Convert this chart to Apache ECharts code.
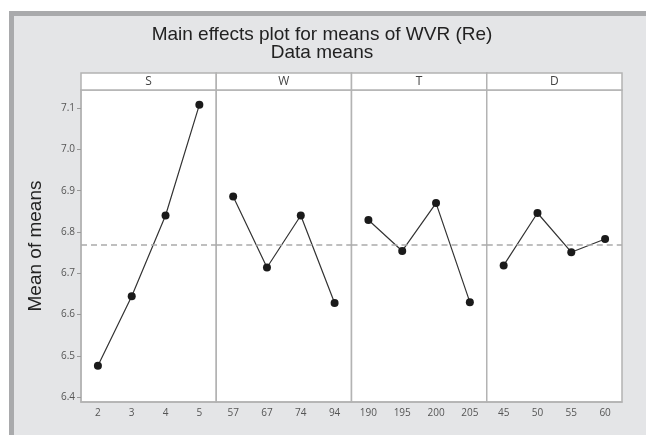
<!DOCTYPE html>
<html>
<head>
<meta charset="utf-8">
<script src="https://cdn.jsdelivr.net/npm/echarts@6/dist/echarts.min.js"></script>
<style>
  html, body { margin: 0; padding: 0; background: #ffffff; }
  #wrap { position: relative; width: 646px; height: 435px; overflow: hidden; }
  #bg { position: absolute; left: 9px; top: 11px; right: 0; bottom: 0;
        background: #e4e5e7; border-left: 5px solid #a9aaac; border-top: 5px solid #a9aaac; }
  #chart { position: absolute; left: 0; top: 0; width: 646px; height: 435px; }
</style>
</head>
<body>
<div id="wrap"><div id="bg"></div><div id="chart"></div></div>
<script>
// ---- data ----
const panelNames = ['S', 'W', 'T', 'D'];
const catS = ['2', '3', '4', '5'];
const catW = ['57', '67', '74', '94'];
const catT = ['190', '195', '200', '205'];
const catD = ['45', '50', '55', '60'];
const meanS = [6.476, 6.644, 6.840, 7.108];
const meanW = [6.886, 6.714, 6.840, 6.628];
const meanT = [6.829, 6.754, 6.870, 6.630];
const meanD = [6.719, 6.846, 6.751, 6.783];
const overallMean = 6.768;
const yTicks = [6.4, 6.5, 6.6, 6.7, 6.8, 6.9, 7.0, 7.1];

const cats = [catS, catW, catT, catD];
const means = [meanS, meanW, meanT, meanD];

// ---- layout ----
const plotLeft = 81, plotRight = 622, plotTop = 90, plotBottom = 402, headTop = 73;
const pw = (plotRight - plotLeft) / 4;
const yMin = 6.388, yMax = 7.144;
const borderCol = '#b3b3b3';

const grids = [], xAxes = [], yAxes = [], series = [], graphics = [];
for (let i = 0; i < 4; i++) {
  grids.push({ left: plotLeft + i * pw, top: plotTop, width: pw, height: plotBottom - plotTop,
    show: true, backgroundColor: '#ffffff', borderColor: borderCol, borderWidth: 1.5 });
  xAxes.push({ type: 'category', gridIndex: i, data: cats[i], boundaryGap: true,
    axisLine: { lineStyle: { color: borderCol, width: 1.5 } },
    axisTick: { alignWithLabel: true, length: 4, lineStyle: { color: '#999' } },
    axisLabel: { color: '#555', fontSize: 10, fontFamily: 'Open Sans', margin: 6 },
    splitLine: { show: false } });
  yAxes.push({ type: 'value', gridIndex: i, min: yMin, max: yMax,
    axisLine: { show: i === 0, lineStyle: { color: borderCol, width: 1.5 } },
    axisTick: { show: i === 0, length: 4, customValues: yTicks, lineStyle: { color: '#999' } },
    axisLabel: { show: i === 0, customValues: yTicks, color: '#555', fontSize: 10, fontFamily: 'Open Sans', margin: 6,
      formatter: v => v.toFixed(1) },
    splitLine: { show: false },
    name: i === 0 ? 'Mean of means' : '', nameLocation: 'middle', nameRotate: 90, nameGap: 36,
    nameTextStyle: { fontFamily: 'Liberation Sans', fontSize: 19, color: '#222' } });
  series.push({ type: 'line', xAxisIndex: i, yAxisIndex: i, data: means[i],
    symbol: 'circle', symbolSize: 8, itemStyle: { color: '#1a1a1a' },
    lineStyle: { color: '#333', width: 1.2 },
    markLine: { silent: true, symbol: 'none', label: { show: false },
      lineStyle: { color: '#aaaaaa', type: [6, 4], width: 1.5 },
      data: [{ yAxis: overallMean }] } });
  graphics.push({ type: 'rect', shape: { x: plotLeft + i * pw, y: headTop, width: pw, height: plotTop - headTop },
    style: { fill: '#ffffff', stroke: borderCol, lineWidth: 1.5 } });
  graphics.push({ type: 'text', x: plotLeft + i * pw + pw / 2, y: (headTop + plotTop) / 2,
    style: { text: panelNames[i], fill: '#444', fontSize: 12, fontFamily: 'Open Sans', align: 'center', verticalAlign: 'middle' } });
}

const chart = echarts.init(document.getElementById('chart'), null, { renderer: 'canvas' });
chart.setOption({
  animation: false,
  backgroundColor: 'transparent',
  title: { text: 'Main effects plot for means of WVR (Re)\nData means', left: 322, top: 26, padding: 0,
    textAlign: 'center',
    textStyle: { fontFamily: 'Liberation Sans', fontSize: 19, fontWeight: 'normal', color: '#222', lineHeight: 18, align: 'center' } },
  grid: grids, xAxis: xAxes, yAxis: yAxes, series: series, graphic: graphics
});
</script>
</body>
</html>
